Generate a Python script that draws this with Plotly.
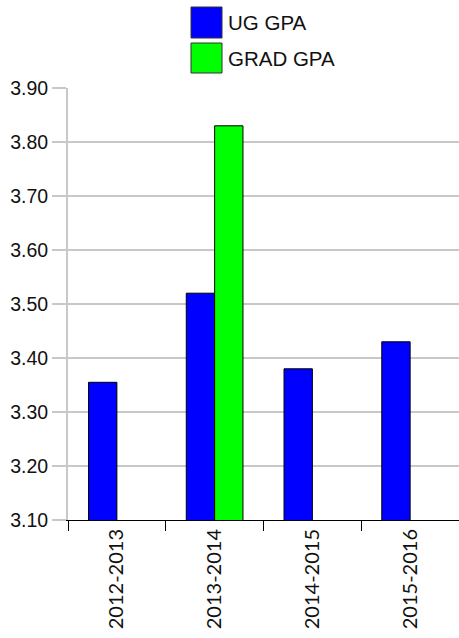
import plotly.graph_objects as go

years = ["2012-2013", "2013-2014", "2014-2015", "2015-2016"]
ug_gpa = [3.355, 3.52, 3.38, 3.43]
grad_gpa = [None, 3.83, None, None]
series_names = ["UG GPA", "GRAD GPA"]
series_colors = ["#0000ff", "#00ff00"]
y_ticks = [3.10, 3.20, 3.30, 3.40, 3.50, 3.60, 3.70, 3.80, 3.90]

W, H = 459, 638
ml, mr, mt, mb = 68, 0, 88, 118
pw, ph = W - ml - mr, H - mt - mb

fig = go.Figure()
for name, vals, col in zip(series_names, [ug_gpa, grad_gpa], series_colors):
    fig.add_trace(go.Bar(x=years, y=vals, name=name, marker=dict(color=col, line=dict(color="#000000", width=1)),
                         showlegend=False))

font = "Liberation Sans, Arial, sans-serif"
xfont = "Lato, Open Sans, sans-serif"
fig.update_layout(
    width=W, height=H,
    margin=dict(l=ml, r=mr, t=mt, b=mb, pad=0),
    paper_bgcolor="white", plot_bgcolor="white",
    barmode="group", bargap=0.42, bargroupgap=0,
    font=dict(family=font, size=20, color="#111111"),
)
fig.update_yaxes(
    range=[3.10, 3.90], tickvals=y_ticks, ticktext=[f"{v:.2f}" for v in y_ticks],
    showgrid=True, gridcolor="#c8c8c8", gridwidth=2,
    showline=True, linecolor="#c8c8c8", linewidth=2,
    ticks="outside", ticklen=14, tickcolor="#c8c8c8", tickwidth=2,
    tickfont=dict(size=19.5, family=font, color="#111111"), zeroline=False,
    automargin=False,
)
fig.update_xaxes(
    showline=True, linecolor="#000000", linewidth=1,
    ticks="outside", tickson="boundaries", ticklen=10, tickcolor="#000000", tickwidth=1,
    tickangle=-90, tickfont=dict(size=20, family=xfont, color="#111111"), showgrid=False,
    automargin=False,
)

# custom legend (white box covering top gridline, large swatches)
def px_x(x):
    return (x - ml) / pw

def px_y(y):
    return (mt + ph - y) / ph

fig.add_shape(type="rect", xref="paper", yref="paper", x0=px_x(186), x1=px_x(350), y0=px_y(90), y1=px_y(2),
              fillcolor="white", line=dict(width=0), layer="above")
rows = [(7, 38), (43, 73)]
for (y0, y1), name, col in zip(rows, series_names, series_colors):
    fig.add_shape(type="rect", xref="paper", yref="paper", x0=px_x(191), x1=px_x(222), y0=px_y(y1), y1=px_y(y0),
                  fillcolor=col, line=dict(color="#333333", width=1), layer="above")
    fig.add_annotation(xref="paper", yref="paper", x=px_x(226), y=px_y((y0 + y1) / 2), text=name,
                       showarrow=False, xanchor="left", yanchor="middle",
                       font=dict(size=20.5, family=font, color="#111111"))

fig.write_html("out.html", config={"displayModeBar": False},
               post_script="document.body.style.margin='0';document.body.style.overflow='hidden';")
